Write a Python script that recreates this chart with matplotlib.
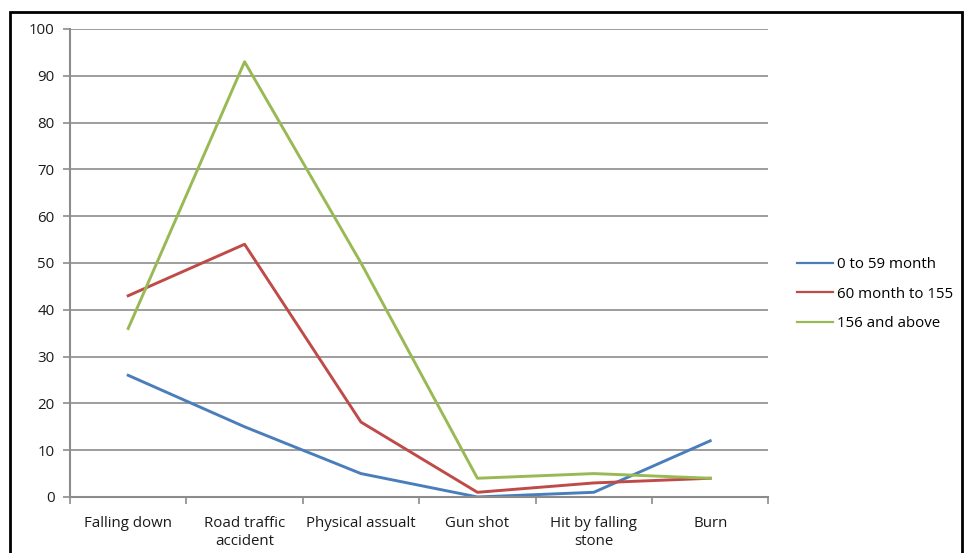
import numpy as np
import matplotlib
matplotlib.use('Agg')
import matplotlib.pyplot as plt
from matplotlib.patches import Rectangle

categories = ['Falling down', 'Road traffic\naccident', 'Physical assualt',
              'Gun shot', 'Hit by falling\nstone', 'Burn']
series_names = ['0 to 59 month', '60 month to 155', '156 and above']
age_0_59 = [26, 15, 5, 0, 1, 12]
age_60_155 = [43, 54, 16, 1, 3, 4]
age_156_up = [36, 93, 50, 4, 5, 4]
colors = ['#4A7EBB', '#BE4B48', '#98B954']

plt.rcParams['font.family'] = ['Open Sans', 'DejaVu Sans']

fig = plt.figure(figsize=(9.64, 5.53), dpi=100)
ax = fig.add_axes([0.0726, 0.1013, 0.7245, 0.8463])

x = np.arange(len(categories))
for vals, name, c in zip([age_0_59, age_60_155, age_156_up], series_names, colors):
    ax.plot(x, vals, color=c, linewidth=2.1, label=name)

ax.set_xlim(-0.5, len(categories) - 0.5)
ax.set_ylim(0, 100)
ax.set_yticks(range(0, 101, 10))
ax.yaxis.grid(True, color='#8c8c8c', linewidth=1.2)
ax.set_axisbelow(True)

ax.set_xticks(x)
ax.set_xticklabels(categories, fontsize=10.8, color='#1a1a1a', linespacing=1.25)
ax.set_xticks(np.arange(-0.5, len(categories), 1), minor=True)
ax.tick_params(axis='x', which='major', length=0, pad=14)
ax.tick_params(axis='x', which='minor', length=5, width=1.2, color='#8c8c8c', direction='out')
ax.tick_params(axis='y', length=5, width=1.2, color='#8c8c8c', pad=6, labelsize=10.8, labelcolor='#1a1a1a')

for side in ['top', 'right']:
    ax.spines[side].set_visible(False)
for side in ['left', 'bottom']:
    ax.spines[side].set_color('#8c8c8c')
    ax.spines[side].set_linewidth(1.5)

leg = fig.legend(loc='center left', bbox_to_anchor=(0.813, 0.468), frameon=False,
                 fontsize=10.8, handlelength=2.4, handletextpad=0.25, labelspacing=0.95)
for h in leg.legend_handles:
    h.set_linewidth(1.6)

# outer black frame
fig.patches.append(Rectangle((10 / 964, -0.05), 952 / 964, 1.05 - 12 / 553,
                             transform=fig.transFigure, fill=False,
                             edgecolor='black', linewidth=2))

fig.savefig('out.png', dpi=100)
